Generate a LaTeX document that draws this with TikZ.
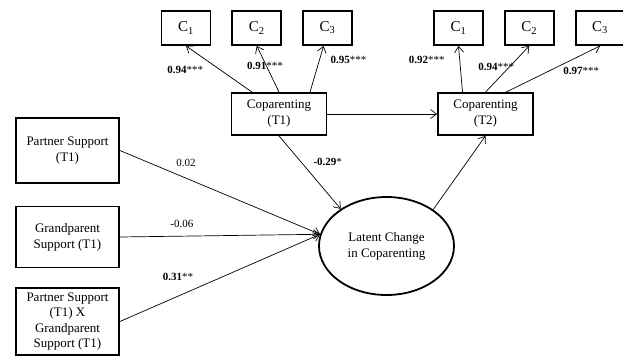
\documentclass[tikz,border=0pt]{standalone}
\usepackage{fontspec}
\setmainfont{Liberation Serif}
\usetikzlibrary{arrows.meta,positioning,shapes.geometric,calc}
\tikzset{
  varbox/.style={rectangle,draw,line width=1.8pt,align=center,inner sep=2pt,font=\fontsize{13}{16}\selectfont},
  itembox/.style={rectangle,draw,line width=1.8pt,minimum width=49pt,minimum height=34pt,inner sep=0pt,font=\fontsize{15}{17}\selectfont},
  latent/.style={ellipse,draw,line width=1.8pt,minimum width=135pt,minimum height=98pt,align=center,inner sep=0pt,font=\fontsize{13}{16}\selectfont},
  link/.style={-{Straight Barb[length=6pt,width=9pt]},line width=0.7pt},
  coef/.style={font=\fontsize{11}{13}\selectfont,inner sep=0pt}
}

\begin{document}
\begin{tikzpicture}[x=1pt,y=-1pt,node distance=20pt]
    \useasboundingbox (0,0) rectangle (623,356);
    % coparenting at both waves
    \node[varbox,minimum width=95pt,minimum height=42pt] (copT1) at (279,114) {Coparenting\\(T1)};
    \node[varbox,minimum width=95pt,minimum height=42pt] (copT2) at (485.5,114) {Coparenting\\(T2)};
    % indicators
    \node[itembox] (c11) at (186,28) {C\textsubscript{1}};
    \node[itembox,right=of c11] (c12) {C\textsubscript{2}};
    \node[itembox,right=of c12] (c13) {C\textsubscript{3}};
    \node[itembox] (c21) at (458.5,28) {C\textsubscript{1}};
    \node[itembox,right=of c21] (c22) {C\textsubscript{2}};
    \node[itembox,right=of c22] (c23) {C\textsubscript{3}};
    % predictors
    \node[varbox,minimum width=103pt,minimum height=65pt] (ps) at (67.5,150.5) {Partner Support\\(T1)};
    \node[varbox,minimum width=103pt,minimum height=61pt] (gs) at (67.5,237) {Grandparent\\Support (T1)};
    \node[varbox,minimum width=103pt,minimum height=67pt,font=\fontsize{13}{15.5}\selectfont] (psxgs) at (67.5,321.5) {Partner Support\\(T1) X\\Grandparent\\Support (T1)};
    \node[latent] (lat) at (386.5,246) {Latent Change\\in Coparenting};

    \draw[link] ([xshift=-27pt]copT1.north) -- node[coef,pos=.48,xshift=-35pt] {\textbf{0.94}***} (c11.south);
    \draw[link] (copT1.north) -- node[coef,pos=.56,xshift=-1.5pt] {\textbf{0.91}***} (c12.south);
    \draw[link] ([xshift=31pt]copT1.north) -- node[coef,pos=.69,xshift=29pt] {\textbf{0.95}***} ([xshift=-4pt]c13.south);
    \draw[link] ([xshift=-23pt]copT2.north) -- node[coef,pos=.69,xshift=-33pt] {\textbf{0.92}***} (c21.south);
    \draw[link] (copT2.north) -- node[coef,pos=.54,xshift=-13pt] {\textbf{0.94}***} (c22.south);
    \draw[link] ([xshift=20.5pt]copT2.north) -- node[coef,pos=.8,yshift=-16pt] {\textbf{0.97}***} (c23.south);
    \draw[link] (copT1) -- (copT2);
    \draw[link] (copT1.south) -- node[coef,pos=.36,xshift=26.5pt] {\textbf{-0.29}*} (lat.141);
    \draw[link] (ps.east) -- node[coef,pos=.33,yshift=15pt] {0.02} (lat.170);
    \draw[link] (gs.east) -- node[coef,pos=.31,yshift=12pt] {-0.06} (lat.170);
    \draw[link] (psxgs.east) -- node[coef,pos=.29,yshift=19pt] {\textbf{0.31}**} (lat.170);
    \draw[link] (lat.38) -- (copT2.south);
  \end{tikzpicture}
\end{document}
